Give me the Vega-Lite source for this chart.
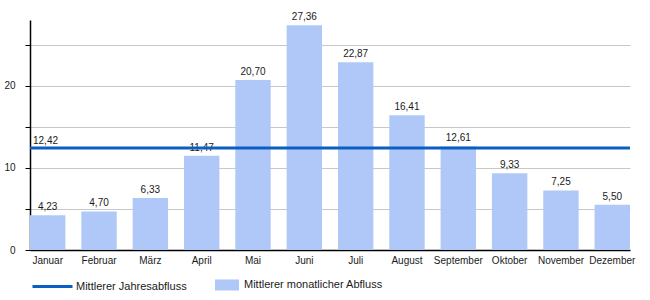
{
  "$schema": "https://vega.github.io/schema/vega-lite/v6.json",
  "width": 600,
  "height": 230,
  "autosize": "none",
  "padding": {"left": 30, "top": 20, "right": 20, "bottom": 50},
  "background": "white",
  "config": {
    "locale": {"number": {"decimal": ",", "thousands": ".", "grouping": [3], "currency": ["", " €"]}},
    "font": "Liberation Sans",
    "view": {"stroke": null},
    "axis": {"labelFont": "Liberation Sans", "labelFontSize": 10, "labelColor": "#1a1a1a"},
    "legend": {"labelFont": "Liberation Sans", "labelFontSize": 11, "labelColor": "#1a1a1a", "padding": 0}
  },
  "datasets": {
    "months": [
      {"month": "Januar", "value": 4.23, "series": "Mittlerer monatlicher Abfluss"},
      {"month": "Februar", "value": 4.70, "series": "Mittlerer monatlicher Abfluss"},
      {"month": "März", "value": 6.33, "series": "Mittlerer monatlicher Abfluss"},
      {"month": "April", "value": 11.47, "series": "Mittlerer monatlicher Abfluss"},
      {"month": "Mai", "value": 20.70, "series": "Mittlerer monatlicher Abfluss"},
      {"month": "Juni", "value": 27.36, "series": "Mittlerer monatlicher Abfluss"},
      {"month": "Juli", "value": 22.87, "series": "Mittlerer monatlicher Abfluss"},
      {"month": "August", "value": 16.41, "series": "Mittlerer monatlicher Abfluss"},
      {"month": "September", "value": 12.61, "series": "Mittlerer monatlicher Abfluss"},
      {"month": "Oktober", "value": 9.33, "series": "Mittlerer monatlicher Abfluss"},
      {"month": "November", "value": 7.25, "series": "Mittlerer monatlicher Abfluss"},
      {"month": "Dezember", "value": 5.50, "series": "Mittlerer monatlicher Abfluss"}
    ],
    "annual": [
      {"month": "Januar", "value": 12.42, "series": "Mittlerer Jahresabfluss"}
    ]
  },
  "encoding": {
    "x": {
      "field": "month", "type": "nominal", "sort": null,
      "scale": {"domain": ["Januar", "Februar", "März", "April", "Mai", "Juni", "Juli", "August", "September", "Oktober", "November", "Dezember"], "paddingInner": 0.31, "paddingOuter": 0},
      "axis": {"title": null, "labelAngle": 0, "ticks": false, "domainColor": "#000000", "domainWidth": 1.5, "labelPadding": 5, "grid": false}
    },
    "y": {
      "field": "value", "type": "quantitative",
      "scale": {"domain": [0, 28], "nice": false},
      "axis": {"title": null, "values": [0, 5, 10, 15, 20, 25], "labelExpr": "datum.value % 10 == 0 ? datum.value : ''", "tickSize": 5, "tickColor": "#000000", "domainColor": "#000000", "domainWidth": 1.5, "labelPadding": 10, "gridColor": "#c8c8c8", "gridWidth": 1}
    }
  },
  "layer": [
    {
      "data": {"name": "months"},
      "mark": {"type": "bar", "opacity": 1},
      "encoding": {
        "fill": {
          "field": "series", "type": "nominal",
          "scale": {"domain": ["Mittlerer monatlicher Abfluss"], "range": ["#b0c8f8"]},
          "legend": {
            "title": null, "orient": "none", "legendX": 185, "legendY": 253,
            "symbolType": "M-1,-0.46H1V0.46H-1Z", "symbolSize": 576, "symbolStrokeWidth": 0,
            "symbolOpacity": 1, "labelOffset": 5
          }
        }
      }
    },
    {
      "data": {"name": "months"},
      "mark": {"type": "text", "baseline": "bottom", "dy": -3, "fontSize": 10, "color": "#1a1a1a"},
      "encoding": {"text": {"field": "value", "type": "quantitative", "format": ".2f"}}
    },
    {
      "data": {"name": "annual"},
      "mark": {"type": "rule", "strokeWidth": 3},
      "encoding": {
        "x": null,
        "stroke": {
          "field": "series", "type": "nominal",
          "scale": {"domain": ["Mittlerer Jahresabfluss"], "range": ["#0b5fc0"]},
          "legend": {
            "title": null, "orient": "none", "legendX": 1, "legendY": 245,
            "symbolType": "stroke", "symbolSize": 1600, "symbolStrokeWidth": 3,
            "symbolOpacity": 1, "labelOffset": 2
          }
        }
      }
    },
    {
      "data": {"name": "annual"},
      "mark": {"type": "text", "align": "left", "baseline": "bottom", "dx": 3, "dy": -2, "fontSize": 10, "color": "#1a1a1a"},
      "encoding": {
        "x": {"field": "month", "type": "nominal", "bandPosition": 0},
        "text": {"field": "value", "type": "quantitative", "format": ".2f"}
      }
    }
  ]
}
